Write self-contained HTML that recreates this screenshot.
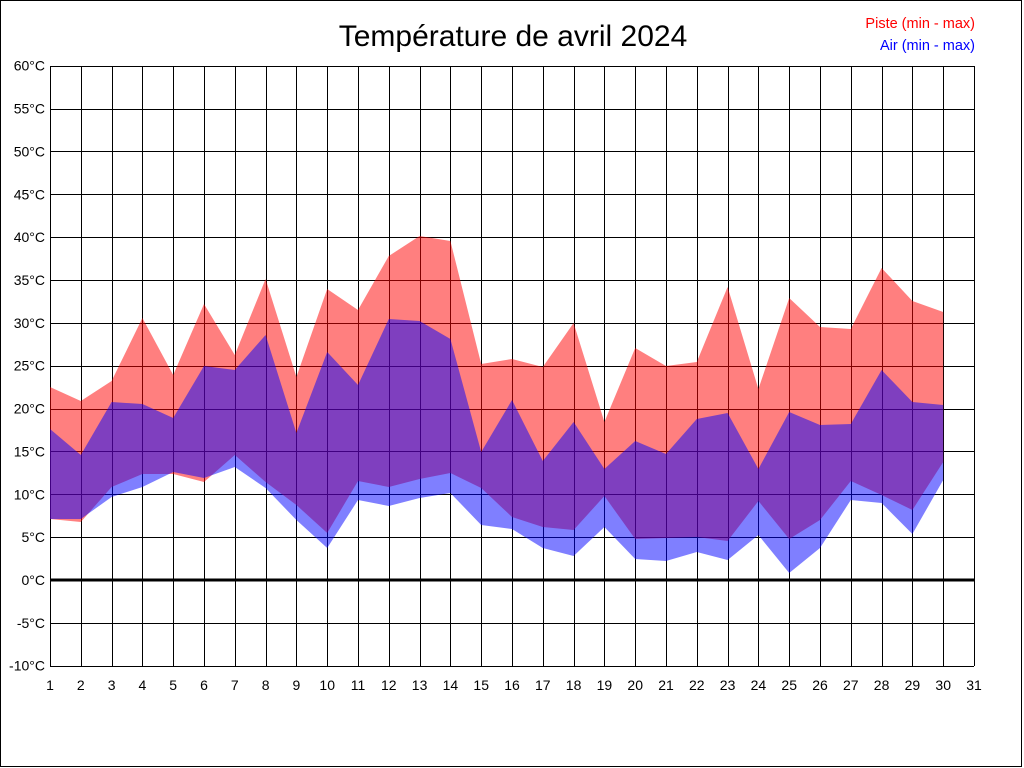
<!DOCTYPE html>
<html><head><meta charset="utf-8"><style>
html,body{margin:0;padding:0;background:#fff}
svg{display:block}
text{font-family:"Liberation Sans",Arial,sans-serif}
</style></head><body>
<svg width="1024" height="768" viewBox="0 0 1024 768" xmlns="http://www.w3.org/2000/svg">
<rect x="0.5" y="0.5" width="1021" height="766" fill="#fff" stroke="#000" stroke-width="1"/>
<text x="513" y="46" font-size="30" text-anchor="middle" fill="#000">Température de avril 2024</text>
<text x="975" y="28" font-size="14.5" text-anchor="end" fill="#ff0000">Piste (min - max)</text>
<text x="975" y="50" font-size="14.5" text-anchor="end" fill="#0000ff">Air (min - max)</text>
<g id="grid" stroke="#000" stroke-width="1" shape-rendering="crispEdges"></g>
<g id="fills"></g>
<line x1="50" y1="580" x2="974" y2="580" stroke="#000" stroke-width="3"/>
<g id="labels" font-size="14" fill="#000"></g>
</svg>
<script>
var ns="http://www.w3.org/2000/svg";
function X(d){return 50+(d-1)*30.8;}
function Y(t){return 580-t*600/70;}
var g=document.getElementById('grid'),lab=document.getElementById('labels'),f=document.getElementById('fills');
function el(p,tag,a,txt){var e=document.createElementNS(ns,tag);for(var k in a)e.setAttribute(k,a[k]);if(txt)e.textContent=txt;p.appendChild(e);return e;}
for(var d=1;d<=31;d++){var x=Math.round(X(d))+0.5;el(g,'line',{x1:x,y1:66,x2:x,y2:666});
 el(lab,'text',{x:X(d),y:690,'text-anchor':'middle'},String(d));}
for(var t=-10;t<=60;t+=5){var y=Math.round(Y(t))+0.5;el(g,'line',{x1:50,y1:y,x2:974,y2:y});
 el(lab,'text',{x:45,y:Y(t)+5,'text-anchor':'end'},t+'°C');}
var pmax=[387,401,381,318,375,304,355,279,377,289,310,256,236,241,364,359,367,323,422,348,366,362,287,389,298,327,329,268,301,312];
var pmin=[519,522,487,474,474,482,455,482,505,533,481,487,479,473,488,517,527,530,496,539,538,537,541,501,539,520,481,495,510,462];
var amax=[429,455,402,404,418,366,370,335,433,352,385,319,321,339,452,400,461,422,469,441,454,419,413,469,412,425,424,370,402,405];
var amin=[519,519,497,487,472,478,467,488,520,548,500,506,498,493,525,529,548,556,527,559,561,552,560,535,573,548,500,503,534,480];
function poly(top,bot,col){var pts=[];for(var i=0;i<30;i++)pts.push(X(i+1)+','+top[i]);for(var i=29;i>=0;i--)pts.push(X(i+1)+','+bot[i]);
 el(f,'polygon',{points:pts.join(' '),fill:col,'fill-opacity':0.5});}
poly(pmax,pmin,'#ff0000');poly(amax,amin,'#0000ff');
</script>
</body></html>
